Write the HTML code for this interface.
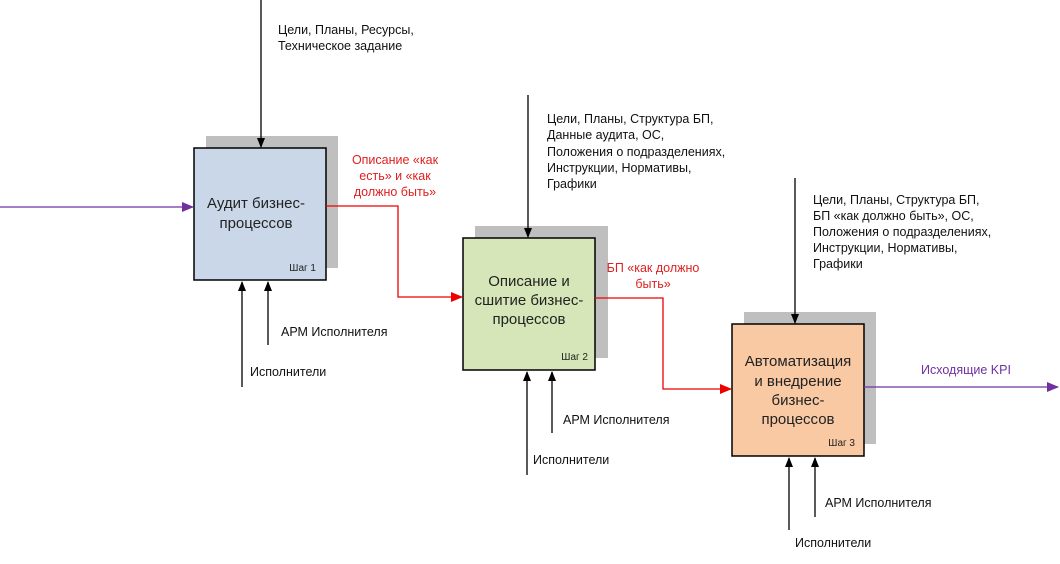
<!DOCTYPE html>
<html><head><meta charset="utf-8"><style>
body{margin:0;background:#fff;width:1060px;height:559px;overflow:hidden;font-family:"Liberation Sans",sans-serif}
</style></head><body>
<svg width="1060" height="559" xmlns="http://www.w3.org/2000/svg" font-family="Liberation Sans, sans-serif">
<defs>
<marker id="k" markerWidth="10" markerHeight="8" refX="9" refY="4" orient="auto" markerUnits="userSpaceOnUse"><path d="M0,0L10,4L0,8z" fill="#000"/></marker>
<marker id="r" markerWidth="12" markerHeight="10" refX="11" refY="5" orient="auto" markerUnits="userSpaceOnUse"><path d="M0,0L12,5L0,10z" fill="#e00"/></marker>
<marker id="p" markerWidth="12" markerHeight="10" refX="11" refY="5" orient="auto" markerUnits="userSpaceOnUse"><path d="M0,0L12,5L0,10z" fill="#7030a0"/></marker>
</defs>
<rect x="206" y="136" width="132" height="132" fill="#bfbfbf"/>
<rect x="194" y="148" width="132" height="132" fill="#c9d7e8" stroke="#000" stroke-width="1.5"/>
<rect x="475" y="226" width="133" height="132" fill="#bfbfbf"/>
<rect x="463" y="238" width="132" height="132" fill="#d6e6b8" stroke="#000" stroke-width="1.5"/>
<rect x="744" y="312" width="132" height="132" fill="#bfbfbf"/>
<rect x="732" y="324" width="132" height="132" fill="#f9c9a4" stroke="#000" stroke-width="1.5"/>
<g stroke="#000" stroke-width="1.3" fill="none" marker-end="url(#k)">
<line x1="261" y1="0" x2="261" y2="147"/>
<line x1="242" y1="387" x2="242" y2="282"/>
<line x1="268" y1="345" x2="268" y2="282"/>
<line x1="528" y1="95" x2="528" y2="237"/>
<line x1="527" y1="475" x2="527" y2="372"/>
<line x1="552" y1="433" x2="552" y2="372"/>
<line x1="795" y1="178" x2="795" y2="323"/>
<line x1="789" y1="530" x2="789" y2="458"/>
<line x1="815" y1="517" x2="815" y2="458"/>
</g>
<line x1="0" y1="207" x2="193" y2="207" stroke="#7030a0" stroke-width="1.3" marker-end="url(#p)"/>
<line x1="864" y1="387" x2="1058" y2="387" stroke="#7030a0" stroke-width="1.3" marker-end="url(#p)"/>
<polyline points="326,206 398,206 398,297 462,297" stroke="#e00" stroke-width="1.3" fill="none" marker-end="url(#r)"/>
<polyline points="595,298 663,298 663,389 731,389" stroke="#e00" stroke-width="1.3" fill="none" marker-end="url(#r)"/>
<g font-size="15" fill="#222" text-anchor="middle">
<text x="256" y="208">Аудит бизнес-</text><text x="256" y="228">процессов</text>
<text x="529" y="286">Описание и</text><text x="529" y="305">сшитие бизнес-</text><text x="529" y="324">процессов</text>
<text x="798" y="366">Автоматизация</text><text x="798" y="386">и внедрение</text><text x="798" y="405">бизнес-</text><text x="798" y="424">процессов</text>
</g>
<g font-size="10" fill="#222" text-anchor="end">
<text x="316" y="271">Шаг 1</text><text x="588" y="360">Шаг 2</text><text x="855" y="446">Шаг 3</text>
</g>
<g font-size="12.5" fill="#111">
<text x="278" y="34">Цели, Планы, Ресурсы,</text><text x="278" y="50">Техническое задание</text>
<text x="547" y="123">Цели, Планы, Структура БП,</text><text x="547" y="139">Данные аудита, ОС,</text><text x="547" y="156">Положения о подразделениях,</text><text x="547" y="172">Инструкции, Нормативы,</text><text x="547" y="188">Графики</text>
<text x="813" y="204">Цели, Планы, Структура БП,</text><text x="813" y="220">БП «как должно быть», ОС,</text><text x="813" y="236">Положения о подразделениях,</text><text x="813" y="252">Инструкции, Нормативы,</text><text x="813" y="268">Графики</text>
<text x="281" y="336">АРМ Исполнителя</text><text x="250" y="376">Исполнители</text>
<text x="563" y="424">АРМ Исполнителя</text><text x="533" y="464">Исполнители</text>
<text x="825" y="507">АРМ Исполнителя</text><text x="795" y="547">Исполнители</text>
</g>
<g font-size="12.5" fill="#e02020" text-anchor="middle">
<text x="395" y="164">Описание «как</text><text x="395" y="180">есть» и «как</text><text x="395" y="196">должно быть»</text>
<text x="653" y="272">БП «как должно</text><text x="653" y="288">быть»</text>
</g>
<text x="921" y="374" font-size="12.5" fill="#7030a0">Исходящие KPI</text>
</svg>
</body></html>
